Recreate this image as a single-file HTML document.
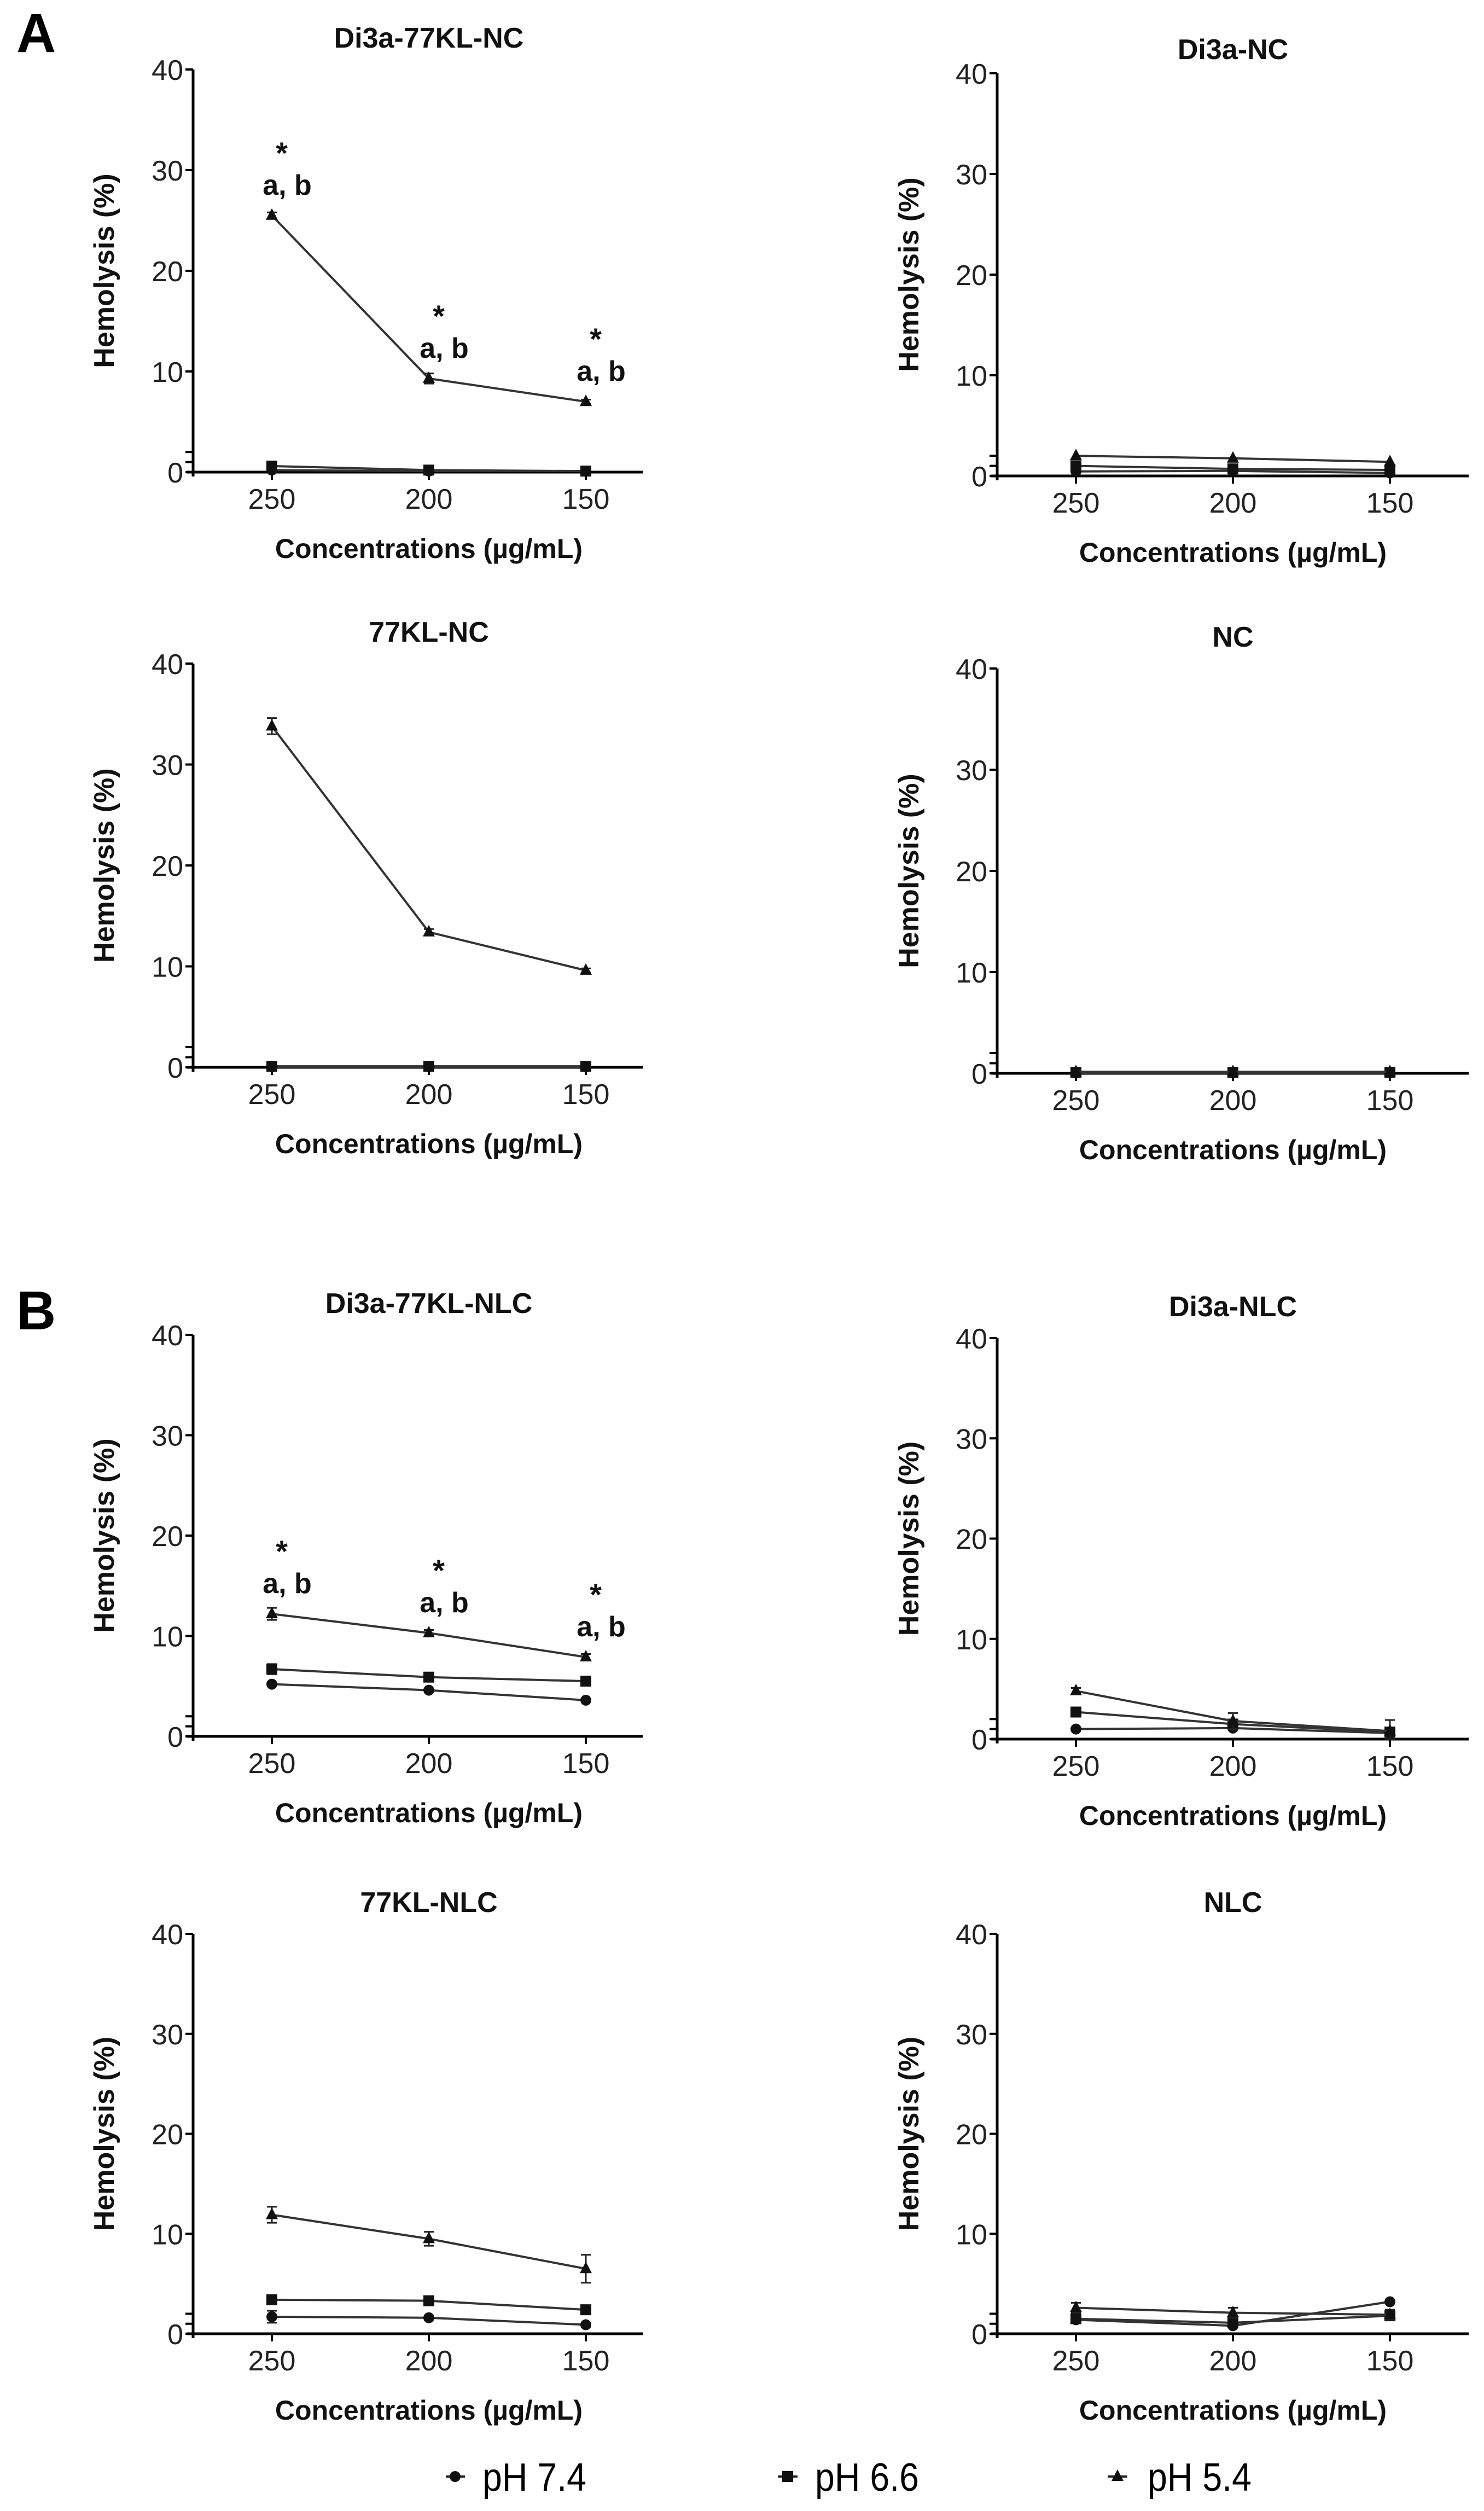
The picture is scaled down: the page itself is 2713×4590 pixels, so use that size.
<!DOCTYPE html>
<html><head><meta charset="utf-8"><style>
html,body{margin:0;padding:0;background:#fff;}
svg{display:block;}
text{font-family:"Liberation Sans",Arial,sans-serif;}
</style></head><body>
<svg id="fig" xmlns="http://www.w3.org/2000/svg" width="2713" height="4590" viewBox="0 0 2713 4590">
<rect width="2713" height="4590" fill="#fff"/>
<text x="30" y="95" font-size="100" font-weight="bold">A</text>
<text x="30" y="2430" font-size="100" font-weight="bold">B</text>
<g>
 <g>
  <line x1="815" y1="4527" x2="850" y2="4527" stroke="#222" stroke-width="4"/>
  <circle cx="832" cy="4527" r="10" fill="#111"/>
  <text x="882" y="4553" font-size="72" textLength="190" lengthAdjust="spacingAndGlyphs">pH 7.4</text>
 </g>
 <g>
  <line x1="1422" y1="4527" x2="1458" y2="4527" stroke="#222" stroke-width="4"/>
  <rect x="1430" y="4517" width="20" height="20" fill="#111"/>
  <text x="1490" y="4553" font-size="72" textLength="190" lengthAdjust="spacingAndGlyphs">pH 6.6</text>
 </g>
 <g>
  <line x1="2025" y1="4527" x2="2061" y2="4527" stroke="#222" stroke-width="4"/>
  <polygon points="2043,4514 2054,4535 2032,4535" fill="#111"/>
  <text x="2098" y="4553" font-size="72" textLength="190" lengthAdjust="spacingAndGlyphs">pH 5.4</text>
 </g>
</g>
</svg>
<script>
// ---- data ----
const categories = ['250', '200', '150'];
const yTickLabels = ['0', '10', '20', '30', '40'];
const yTickValues = [0, 10, 20, 30, 40];

const a1_ph74 = [0.2, 0.1, 0.1];
const a1_ph66 = [0.6, 0.2, 0.1];
const a1_ph54 = [25.5, 9.3, 7.0];
const a1_err54 = [0.3, 0.5, 0.2];

const a2_ph74 = [0.45, 0.5, 0.3];
const a2_ph66 = [1.0, 0.7, 0.6];
const a2_ph54 = [2.0, 1.75, 1.4];

const a3_ph74 = [0.05, 0.05, 0.05];
const a3_ph66 = [0.1, 0.1, 0.1];
const a3_ph54 = [33.8, 13.4, 9.6];
const a3_err54 = [0.8, 0.3, 0.2];

const a4_ph74 = [0.05, 0.05, 0.05];
const a4_ph66 = [0.1, 0.1, 0.1];
const a4_ph54 = [0.15, 0.15, 0.15];

const b1_ph74 = [5.2, 4.6, 3.6];
const b1_ph66 = [6.7, 5.9, 5.5];
const b1_ph54 = [12.2, 10.3, 7.9];
const b1_err54 = [0.6, 0.3, 0.3];
const b1_err66 = [0.5, 0.3, 0.2];

const b2_ph74 = [1.0, 1.1, 0.6];
const b2_ph66 = [2.7, 1.5, 0.7];
const b2_ph54 = [4.8, 1.8, 0.8];
const b2_err54 = [0.3, 0.8, 1.1];

const b3_ph74 = [1.7, 1.6, 0.9];
const b3_ph66 = [3.4, 3.3, 2.4];
const b3_ph54 = [11.9, 9.5, 6.5];
const b3_err54 = [0.8, 0.7, 1.4];
const b3_err74 = [0.6, 0.2, 0.2];

const b4_ph74 = [1.4, 0.8, 3.2];
const b4_ph66 = [1.5, 1.1, 1.8];
const b4_ph54 = [2.6, 2.1, 1.9];
const b4_err54 = [0.5, 0.5, 0.5];

const annotA1 = [true, true, true];
const annotB1 = [true, true, true];

// ---- layout ----
const NS = 'http://www.w3.org/2000/svg';
const svg = document.getElementById('fig');

function mk(tag, attrs, parent) {
  const e = document.createElementNS(NS, tag);
  for (const k in attrs) e.setAttribute(k, attrs[k]);
  parent.appendChild(e);
  return e;
}

const panels = [
  {id:'a1', title:'Di3a-77KL-NC', ax:353, y40:127, y0:863, s:[a1_ph74,a1_ph66,a1_ph54], e:[null,null,a1_err54], ann:annotA1, yt:190, to:40, xe:822},
  {id:'a2', title:'Di3a-NC', ax:1823, y40:134, y0:870, s:[a2_ph74,a2_ph66,a2_ph54], e:[null,null,null], yt:1661, to:26, xe:862},
  {id:'a3', title:'77KL-NC', ax:353, y40:1213, y0:1951, s:[a3_ph74,a3_ph66,a3_ph54], e:[null,null,a3_err54], yt:190, to:40, xe:822},
  {id:'a4', title:'NC', ax:1823, y40:1222, y0:1962, s:[a4_ph74,a4_ph66,a4_ph54], e:[null,null,null], yt:1661, to:40, xe:862},
  {id:'b1', title:'Di3a-77KL-NLC', ax:353, y40:2440, y0:3174, s:[b1_ph74,b1_ph66,b1_ph54], e:[null,b1_err66,b1_err54], ann:annotB1, yt:190, to:40, xe:822},
  {id:'b2', title:'Di3a-NLC', ax:1823, y40:2446, y0:3179, s:[b2_ph74,b2_ph66,b2_ph54], e:[null,null,b2_err54], yt:1661, to:40, xe:862},
  {id:'b3', title:'77KL-NLC', ax:353, y40:3535, y0:4266, s:[b3_ph74,b3_ph66,b3_ph54], e:[b3_err74,null,b3_err54], yt:190, to:40, xe:822},
  {id:'b4', title:'NLC', ax:1823, y40:3535, y0:4266, s:[b4_ph74,b4_ph66,b4_ph54], e:[null,null,b4_err54], yt:1661, to:40, xe:862}
];
const seriesNames = ['ph74', 'ph66', 'ph54'];

panels.forEach(p => {
  const g = mk('g', {}, svg);
  
  
  const yScale = v => p.y0 - (v / 40) * (p.y0 - p.y40);
  const xScale = i => p.ax + 144 + i * 287;
  const xEnd = p.ax + p.xe;
  const cx = p.ax + 431;

  const title = mk('text', {x: cx, y: p.y40 - p.to, 'font-size': 52, 'font-weight': 'bold', 'text-anchor': 'middle', fill: '#111'}, g);
  title.textContent = p.title;
  
  

  const yAxis = mk('line', {x1: p.ax, y1: p.y40, x2: p.ax, y2: p.y0 + 8, stroke: '#000', 'stroke-width': 5}, g);
  
  
  const xAxis = mk('line', {x1: p.ax - 12, y1: p.y0, x2: xEnd, y2: p.y0, stroke: '#000', 'stroke-width': 5}, g);
  
  

  yTickValues.forEach((v, i) => {
    const y = yScale(v);
    mk('line', {x1: p.ax - 14, y1: y, x2: p.ax, y2: y, stroke: '#000', 'stroke-width': 4}, g);
    const t = mk('text', {x: p.ax - 18, y: y + 19, 'font-size': 52, 'text-anchor': 'end', fill: '#222'}, g);
    t.textContent = yTickLabels[i];
    
    
  });
  [1, 2].forEach(v => {
    mk('line', {x1: p.ax - 14, y1: yScale(v), x2: p.ax, y2: yScale(v), stroke: '#000', 'stroke-width': 4}, g);
  });

  categories.forEach((c, i) => {
    const x = xScale(i);
    mk('line', {x1: x, y1: p.y0, x2: x, y2: p.y0 + 14, stroke: '#000', 'stroke-width': 4}, g);
    const t = mk('text', {x: x, y: p.y0 + 67, 'font-size': 52, 'text-anchor': 'middle', fill: '#222'}, g);
    t.textContent = c;
    
    
  });

  const xt = mk('text', {x: cx, y: p.y0 + 157, 'font-size': 50, 'font-weight': 'bold', 'text-anchor': 'middle', fill: '#111'}, g);
  xt.textContent = 'Concentrations (µg/mL)';
  
  

  const ymid = (p.y40 + p.y0) / 2;
  const yt = mk('text', {x: p.yt, y: ymid, 'font-size': 52, 'font-weight': 'bold', 'text-anchor': 'middle', fill: '#111', transform: 'rotate(-90 ' + p.yt + ' ' + ymid + ')', dy: 18}, g);
  yt.textContent = 'Hemolysis (%)';
  
  

  p.s.forEach((vals, si) => {
    const sg = mk('g', {}, g);
    
    
    const pts = vals.map((v, i) => xScale(i) + ',' + yScale(v)).join(' ');
    const pl = mk('polyline', {points: pts, fill: 'none', stroke: '#333', 'stroke-width': 4}, sg);
    
    
    vals.forEach((v, i) => {
      const x = xScale(i), y = yScale(v);
      const err = p.e[si];
      if (err) {
        const y1 = yScale(v + err[i]), y2 = yScale(Math.max(0, v - err[i]));
        const eb = mk('path', {d: 'M' + x + ' ' + y1 + 'V' + y2 + 'M' + (x - 9) + ' ' + y1 + 'H' + (x + 9) + 'M' + (x - 9) + ' ' + y2 + 'H' + (x + 9), stroke: '#222', 'stroke-width': 3, fill: 'none'}, sg);
        
        
      }
      let m;
      if (si === 0) m = mk('circle', {cx: x, cy: y, r: 10, fill: '#111'}, sg);
      else if (si === 1) m = mk('rect', {x: x - 10, y: y - 10, width: 20, height: 20, fill: '#111'}, sg);
      else m = mk('polygon', {points: x + ',' + (y - 13) + ' ' + (x + 11) + ',' + (y + 8) + ' ' + (x - 11) + ',' + (y + 8), fill: '#111'}, sg);
      
      
      if (p.ann && si === 2 && p.ann[i]) {
        const a = mk('text', {x: x + 28, y: y - 38, 'font-size': 52, 'font-weight': 'bold', 'text-anchor': 'middle', fill: '#111'}, g);
        a.textContent = 'a, b';
        
        
        const s = mk('text', {x: x + 18, y: y - 95, 'font-size': 56, 'font-weight': 'bold', 'text-anchor': 'middle', fill: '#111'}, g);
        s.textContent = '*';
        
        
      }
    });
  });
});
</script>
</body></html>
